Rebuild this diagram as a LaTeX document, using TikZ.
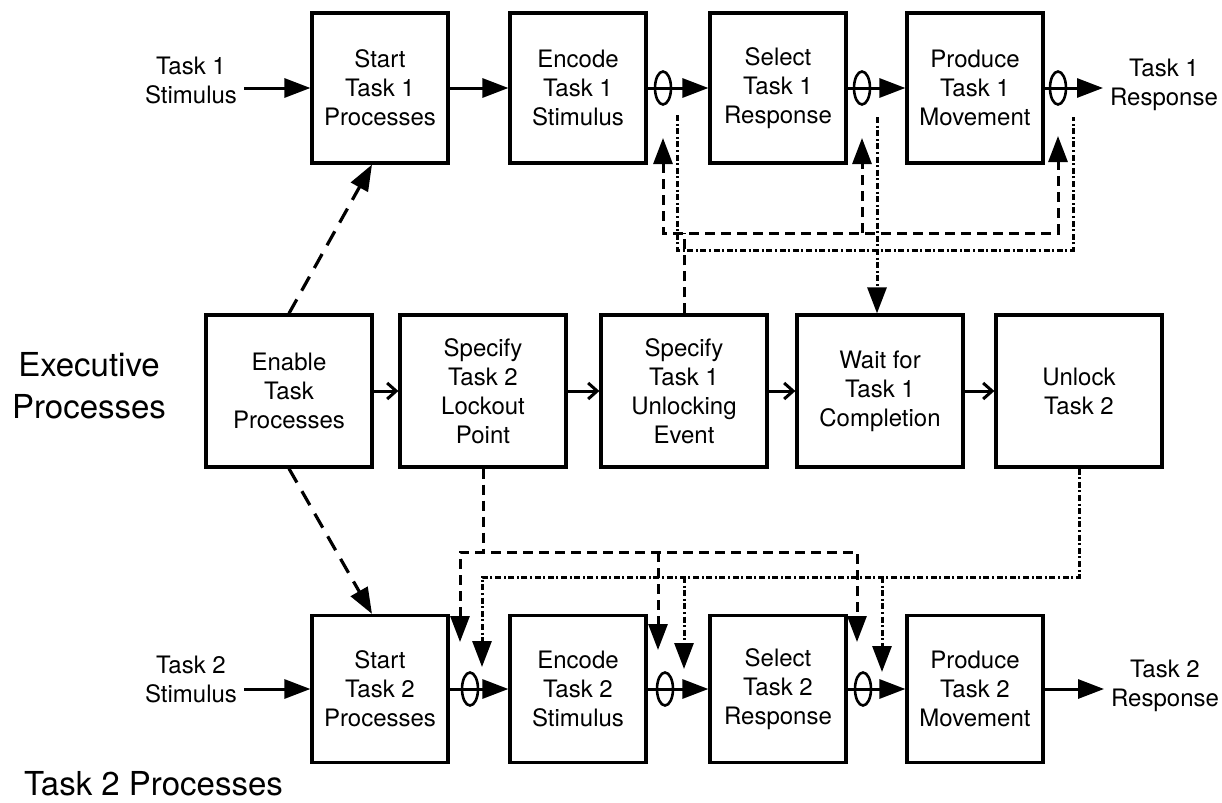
\documentclass[tikz,border=0pt]{standalone}
\usepackage{fontspec}
\setmainfont{TeX Gyre Heros}
\usetikzlibrary{arrows.meta,shapes.geometric}

\begin{document}
\begin{tikzpicture}[x=0.5pt,y=-0.5pt,
	>={Triangle[length=13pt,width=9.5pt]},
	box/.style={draw, line width=1.6pt, align=center, inner sep=0pt, font=\fontsize{12}{14.5}\selectfont},
	toprow/.style={box, minimum width=68pt, minimum height=75pt},
	midrow/.style={box, minimum width=83pt, minimum height=76pt},
	botrow/.style={box, minimum width=68pt, minimum height=73.5pt},
	gate/.style={draw, ellipse, line width=1.3pt, inner sep=0pt, minimum width=8pt, minimum height=16.5pt},
	lbl/.style={align=center, font=\fontsize{12}{14.5}\selectfont},
	biglbl/.style={align=center, font=\fontsize{16.5}{21}\selectfont},
	flow/.style={line width=1.5pt, ->},
	exec/.style={line width=1.5pt, -{Straight Barb[length=4.5pt,width=8pt]}},
	ctrl/.style={line width=1.6pt, dash pattern=on 8pt off 5pt},
	lock/.style={line width=1.5pt, dash pattern=on 5pt off 3pt},
	stat/.style={line width=1.5pt, dash pattern=on 3pt off 1.3pt on 1pt off 1.3pt}]

	\useasboundingbox (0,0) rectangle (1222,803);

	% task 1 row
	\node[toprow] (st1) at (380,88) {Start\\Task 1\\Processes};
	\node[toprow] (en1) at (578,88) {Encode\\Task 1\\Stimulus};
	\node[toprow] (se1) at (778,88) {Select\\Task 1\\Response};
	\node[toprow] (pr1) at (975,88) {Produce\\Task 1\\Movement};

	% executive row
	\node[midrow] (ena) at (289,391) {Enable\\Task\\Processes};
	\node[midrow] (lck) at (483,391) {Specify\\Task 2\\Lockout\\Point};
	\node[midrow] (unl) at (684,391) {Specify\\Task 1\\Unlocking\\Event};
	\node[midrow] (wai) at (880,391) {Wait for\\Task 1\\Completion};
	\node[midrow] (ulk) at (1079,391) {Unlock\\Task 2};

	% task 2 row
	\node[botrow] (st2) at (380,689) {Start\\Task 2\\Processes};
	\node[botrow] (en2) at (578,689) {Encode\\Task 2\\Stimulus};
	\node[botrow] (se2) at (778,689) {Select\\Task 2\\Response};
	\node[botrow] (pr2) at (975,689) {Produce\\Task 2\\Movement};

	% gates
	\node[gate] (g1) at (663,88) {};
	\node[gate] (g2) at (862,88) {};
	\node[gate] (g3) at (1058,88) {};
	\node[gate] (h1) at (470,689) {};
	\node[gate] (h2) at (665,689) {};
	\node[gate] (h3) at (863,689) {};

	% labels
	\node[lbl] (s1in) at (191,80) {Task 1\\Stimulus};
	\node[lbl] (r1out) at (1164,85) {Task 1\\Response};
	\node[lbl] (s2in) at (191,679) {Task 2\\Stimulus};
	\node[lbl] (r2out) at (1165,686) {Task 2\\Response};
	\node[biglbl] (exe) at (89,386) {Executive\\Processes};
	\node[biglbl, anchor=base west] (t2p) at (17,795) {Task 2 Processes};

	% corners and tips
	\coordinate (u1) at (663,138);
	\coordinate (u2) at (862,138);
	\coordinate (u3) at (1058,136);
	\coordinate (d1) at (663,233);
	\coordinate (d2) at (862,233);
	\coordinate (d3) at (1058,233);

	\coordinate (s1) at (677,115);
	\coordinate (s2) at (877,117);
	\coordinate (s3) at (1073,117);
	\coordinate (c1) at (677,250);
	\coordinate (c3) at (1073,250);

	\coordinate (b1) at (460,552);
	\coordinate (b2) at (658,552);
	\coordinate (b3) at (857,552);
	\coordinate (q1) at (460,642);
	\coordinate (q2) at (658,650);
	\coordinate (q3) at (857,642);

	\coordinate (k1) at (482,577);
	\coordinate (k2) at (684,577);
	\coordinate (k3) at (882,577);
	\coordinate (r1) at (482,667);
	\coordinate (r2) at (684,669);
	\coordinate (r3) at (882,672);

	% stage flow
	\draw[flow] (s1in.east |- st1.west) -- (st1.west);
	\draw[flow] (st1) -- (en1);
	\draw[flow] (en1) -- (se1);
	\draw[flow] (se1) -- (pr1);
	\draw[flow] (pr1.east) -- (r1out.west |- pr1.east);

	\draw[flow] (s2in.east |- st2.west) -- (st2.west);
	\draw[flow] (st2) -- (en2);
	\draw[flow] (en2) -- (se2);
	\draw[flow] (se2) -- (pr2);
	\draw[flow] (pr2.east) -- (r2out.west |- pr2.east);

	\draw[exec] (ena) -- (lck);
	\draw[exec] (lck) -- (unl);
	\draw[exec] (unl) -- (wai);
	\draw[exec] (wai) -- (ulk);

	% enabling
	\draw[ctrl, ->] (ena.north) -- ([xshift=-4pt]st1.south);
	\draw[ctrl, ->] (ena.south) -- ([xshift=-4pt]st2.north);

	% unlocking task 1
	\draw[lock, <->] (u1) -- (d1) -- (d3) -- (u3);
	\draw[lock, ->] (d2) -- (u2);
	\draw[lock] (unl.north) -- (unl.north |- d1);

	% task 1 status
	\draw[stat] (s1) -- (c1) -- (c3) -- (s3);
	\draw[stat, ->] (s2) -- (s2 |- wai.north);

	% locking task 2
	\draw[lock, <->] (q1) -- (b1) -- (b3) -- (q3);
	\draw[lock, ->] (b2) -- (q2);
	\draw[lock] (lck.south) -- (lck.south |- b1);

	% unlocking task 2
	\draw[stat, ->] (ulk.south) |- (k1) -- (r1);
	\draw[stat, ->] (k2) -- (r2);
	\draw[stat, ->] (k3) -- (r3);

\end{tikzpicture}
\end{document}
